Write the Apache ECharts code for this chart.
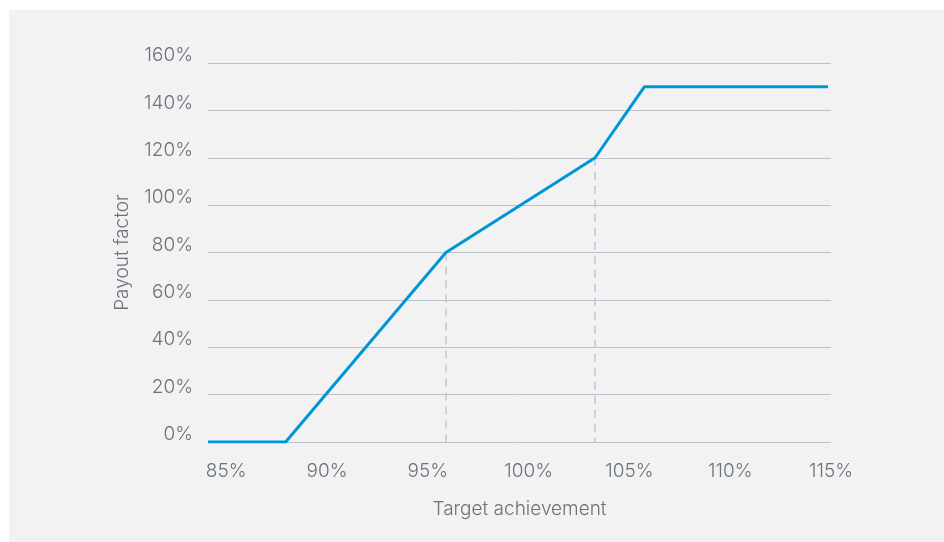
<!DOCTYPE html>
<html>
<head>
<meta charset="utf-8">
<script src="https://cdn.jsdelivr.net/npm/echarts@6/dist/echarts.min.js"></script>
<style>
    body { margin: 0; background: #fff; }
    #panel { position: absolute; left: 9px; top: 10px; width: 935px; height: 532px; background: #f2f2f2; }
    #payoutChart { position: absolute; left: 0; top: 0; width: 944px; height: 542px; }
</style>
</head>
<body>
<div id="panel"></div>
<div id="payoutChart"></div>
<script>
// payout curve (x = target achievement %, y = payout factor %)
var achievement = [84.1, 87.95, 95.9, 103.3, 105.75, 114.85];
var payout = [0, 0, 80, 120, 150, 150];
var xTicks = [85, 90, 95, 100, 105, 110, 115];
var yTicks = [0, 20, 40, 60, 80, 100, 120, 140, 160];
// kink points that get a dashed drop line
var dropIdx = [2, 3];

function LoadPayoutChart() {
    var chartDom = document.getElementById('payoutChart');
    var myChart = echarts.init(chartDom);
    var option;

    var points = [];
    for (var i = 0; i < achievement.length; i++) {
        points.push([achievement[i], payout[i]]);
    }
    var drops = dropIdx.map(function (i) {
        return [{ coord: [achievement[i], payout[i]] }, { coord: [achievement[i], 0] }];
    });

    var labelFont = {
        color: '#6b727c',
        fontSize: 19,
        fontFamily: 'Inter',
        fontWeight: 300
    };

    option = {
        animation: false,
        backgroundColor: 'transparent',
        grid: {
            left: 208,
            right: 113,
            top: 63,
            bottom: 100
        },
        xAxis: {
            type: 'value',
            min: achievement[0],
            max: xTicks[xTicks.length - 1],
            name: 'Target achievement',
            nameLocation: 'middle',
            nameGap: 58,
            nameTextStyle: labelFont,
            axisLine: { show: false },
            axisTick: { show: false },
            splitLine: { show: false },
            axisLabel: Object.assign({
                customValues: xTicks,
                margin: 20,
                formatter: '{value}%'
            }, labelFont)
        },
        yAxis: {
            type: 'value',
            min: yTicks[0],
            max: yTicks[yTicks.length - 1],
            interval: 20,
            name: 'Payout factor',
            nameLocation: 'middle',
            nameGap: 76,
            nameTextStyle: labelFont,
            axisLine: { show: false },
            axisTick: { show: false },
            splitLine: {
                lineStyle: { color: '#b9c1cc', width: 1 }
            },
            axisLabel: Object.assign({
                margin: 15,
                verticalAlign: 'bottom',
                lineHeight: 15,
                formatter: '{value}%'
            }, labelFont)
        },
        series: [{
            type: 'line',
            data: points,
            symbol: 'none',
            color: '#0096d6',
            lineStyle: { width: 3, color: '#0096d6' },
            markLine: {
                silent: true,
                symbol: 'none',
                label: { show: false },
                lineStyle: { type: [8, 6], color: '#c1c8d2', width: 1.5 },
                data: drops,
                z: 1
            },
            z: 3
        }]
    };

    myChart.setOption(option);
}
LoadPayoutChart();
</script>
</body>
</html>
